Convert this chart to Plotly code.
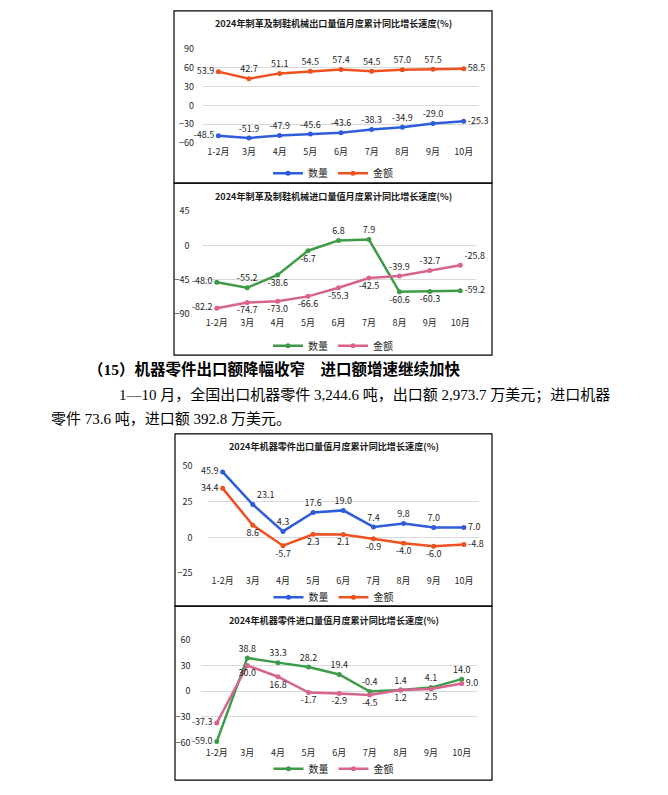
import plotly.graph_objects as go

W, H = 668, 795

months = ["1-2月", "3月", "4月", "5月", "6月", "7月", "8月", "9月", "10月"]
series_names = ["数量", "金额"]

c1_title = "2024年制革及制鞋机械出口量值月度累计同比增长速度(%)"
c1_qty = [-48.5, -51.9, -47.9, -45.6, -43.6, -38.3, -34.9, -29.0, -25.3]
c1_val = [53.9, 42.7, 51.1, 54.5, 57.4, 54.5, 57.0, 57.5, 58.5]

c2_title = "2024年制革及制鞋机械进口量值月度累计同比增长速度(%)"
c2_qty = [-48.0, -55.2, -38.6, -6.7, 6.8, 7.9, -60.6, -60.3, -59.2]
c2_val = [-82.2, -74.7, -73.0, -66.6, -55.3, -42.5, -39.9, -32.7, -25.8]

c3_title = "2024年机器零件出口量值月度累计同比增长速度(%)"
c3_qty = [45.9, 23.1, 4.3, 17.6, 19.0, 7.4, 9.8, 7.0, 7.0]
c3_val = [34.4, 8.6, -5.7, 2.3, 2.1, -0.9, -4.0, -6.0, -4.8]

c4_title = "2024年机器零件进口量值月度累计同比增长速度(%)"
c4_qty = [-59.0, 38.8, 33.3, 28.2, 19.4, -0.4, 1.4, 4.1, 14.0]
c4_val = [-37.3, 30.0, 16.8, -1.7, -2.9, -4.5, 1.2, 2.5, 9.0]

heading = "（15）机器零件出口额降幅收窄　进口额增速继续加快"
para_line1 = "1—10 月，全国出口机器零件 3,244.6 吨，出口额 2,973.7 万美元；进口机器"
para_line2 = "零件 73.6 吨，进口额 392.8 万美元。"

BLUE, ORANGE, GREEN, PINK = "#2F5CDB", "#EE5120", "#3E9B48", "#D8648E"
L, R, T, B = "middle left", "middle right", "top center", "bottom center"

charts = [
    dict(title=c1_title, qty=c1_qty, val=c1_val, cols=(BLUE, ORANGE),
         box=(174, 4, 492, 179), plot=(203, 42.7, 479, 138.3), yr=(-60, 90), dt=30,
         ty=16, ly=169, so=8, xso=2,
         pq=[L, T, T, T, T, T, T, T, R], pv=[L, T, T, T, T, T, T, T, R]),
    dict(title=c2_title, qty=c2_qty, val=c2_val, cols=(GREEN, PINK),
         box=(174, 179, 492, 354), plot=(201.5, 207.7, 475.5, 312.3), yr=(-90, 45), dt=45,
         ty=191.7, ly=344.3, so=11, xso=2,
         pq=[L, T, B, B, T, T, B, B, R], pv=[L, B, B, B, B, B, T, T, "top right"]),
    dict(title=c3_title, qty=c3_qty, val=c3_val, cols=(BLUE, ORANGE),
         box=(175, 434, 492, 609), plot=(207.6, 466.7, 479, 575.7), yr=(-25, 50), dt=25,
         ty=446.7, ly=600, so=14, xso=1,
         pq=[L, "top right", T, T, T, T, T, T, R], pv=[L, B, B, B, B, B, B, B, R]),
    dict(title=c4_title, qty=c4_qty, val=c4_val, cols=(GREEN, PINK),
         box=(175, 609, 492, 786), plot=(201.4, 643.3, 477, 747.7), yr=(-60, 60), dt=30,
         ty=623.3, ly=774.3, so=10, xso=4,
         pq=[L, T, T, T, T, T, T, T, T], pv=[L, B, B, B, B, B, B, B, R]),
]


def X(px):
    return px / W


def Y(py):
    return 1 - py / H


FONT = "Noto Sans CJK SC"
TXT = "#262626"
fig = go.Figure()
shapes, annotations, layout = [], [], {}

for i, ch in enumerate(charts, start=1):
    sfx = "" if i == 1 else str(i)
    lg = "legend" if i == 1 else f"legend{i}"
    for name, vals, col, pos in zip(series_names, (ch["qty"], ch["val"]), ch["cols"], (ch["pq"], ch["pv"])):
        fig.add_trace(go.Scatter(
            x=months, y=vals, name=name, mode="lines+markers+text",
            text=[f"{v:.1f}" for v in vals], textposition=pos,
            textfont=dict(family=FONT, size=9, color=TXT),
            line=dict(color=col, width=2.5), marker=dict(color=col, size=5),
            xaxis="x" + sfx, yaxis="y" + sfx, legend=lg, cliponaxis=False,
            hoverinfo="skip"))
    l, t, r, b = ch["plot"]
    layout["xaxis" + sfx] = dict(
        domain=[X(l), X(r)], anchor="y" + sfx, type="category",
        categoryorder="array", categoryarray=months, range=[-0.5, 8.5],
        showgrid=False, zeroline=False, showline=False, ticks="", tickangle=0,
        ticklabelstandoff=ch["xso"],
        tickfont=dict(family=FONT, size=9, color=TXT), fixedrange=True)
    layout["yaxis" + sfx] = dict(
        domain=[Y(b), Y(t)], anchor="x" + sfx, range=list(ch["yr"]), dtick=ch["dt"],
        tick0=0, showgrid=True, gridcolor="#D9D9D9", gridwidth=1, zeroline=False,
        showline=False, ticks="", ticklabelstandoff=ch["so"],
        tickfont=dict(family=FONT, size=9, color=TXT), fixedrange=True)
    layout[lg] = dict(
        orientation="h", x=X((ch["box"][0] + ch["box"][2]) / 2), xanchor="center",
        y=Y(ch["ly"]), yanchor="middle", font=dict(family=FONT, size=10, color=TXT),
        bgcolor="rgba(0,0,0,0)", itemwidth=30)
    x0, y0, x1, y1 = ch["box"]
    shapes.append(dict(type="rect", xref="paper", yref="paper", x0=X(x0), x1=X(x1),
                       y0=Y(y1), y1=Y(y0), line=dict(color="#000000", width=1.2)))
    annotations.append(dict(text=f"<b>{ch['title']}</b>", xref="paper", yref="paper",
                            x=X((x0 + x1) / 2), y=Y(ch["ty"]), xanchor="center", yanchor="middle",
                            showarrow=False, font=dict(family=FONT, size=9.1, color="#1a1a1a")))

BODY = "Liberation Serif, Noto Sans CJK SC"
annotations.append(dict(text=f"<b>{heading}</b>", xref="paper", yref="paper", x=X(86), y=Y(368),
                        xanchor="left", yanchor="middle", showarrow=False,
                        font=dict(family=BODY, size=15.5, color="#000000")))
annotations.append(dict(text=para_line1, xref="paper", yref="paper", x=X(117), y=Y(394),
                        xanchor="left", yanchor="middle", showarrow=False,
                        font=dict(family=BODY, size=15, color="#000000")))
annotations.append(dict(text=para_line2, xref="paper", yref="paper", x=X(49), y=Y(419),
                        xanchor="left", yanchor="middle", showarrow=False,
                        font=dict(family=BODY, size=15, color="#000000")))

fig.update_layout(width=W, height=H, margin=dict(l=0, r=0, t=0, b=0),
                  paper_bgcolor="white", plot_bgcolor="white", showlegend=True,
                  shapes=shapes, annotations=annotations, **layout)

PAGE_JS = (
    "document.documentElement.style.margin='0';"
    "document.documentElement.style.overflow='hidden';"
    "document.body.style.margin='0';document.body.style.padding='0';"
    "document.body.style.overflow='hidden';"
    "var gd=document.getElementById('{plot_id}');"
    "gd.style.position='fixed';gd.style.left='0px';gd.style.top='0px';"
)

fig.write_html("out.html", config={"displayModeBar": False}, post_script=PAGE_JS)
